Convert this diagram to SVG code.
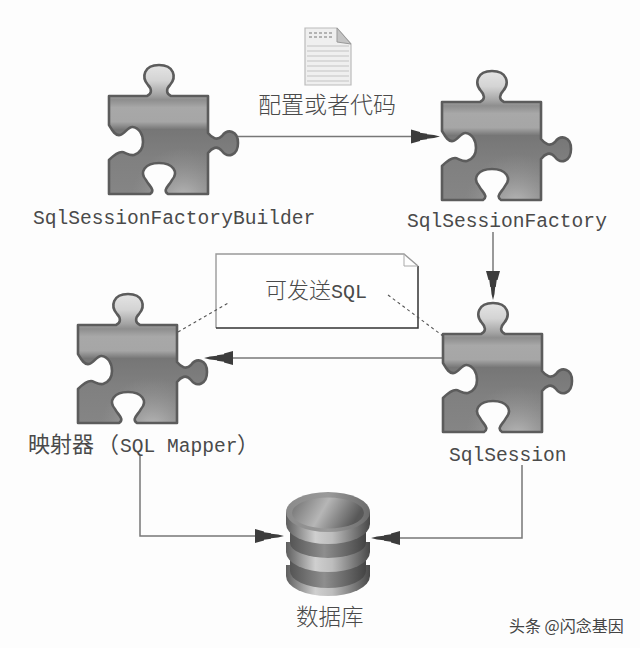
<svg xmlns="http://www.w3.org/2000/svg" width="640" height="648" viewBox="0 0 640 648">
<style>
.lbl{font-family:"Liberation Mono","Noto Sans CJK SC",monospace;font-size:19.6px;fill:#4a4a4a}
.cjk{font-family:"Noto Sans CJK SC",sans-serif;font-size:22.5px;fill:#4a4a4a;font-weight:300}
.conn{fill:none;stroke:#777;stroke-width:1.5}
.dash{fill:none;stroke:#555;stroke-width:1.1;stroke-dasharray:3 3}
.dl{stroke:#c4c4c4;stroke-width:1.2}
</style>
<defs>
<marker id="arr" markerUnits="userSpaceOnUse" markerWidth="30" markerHeight="16" viewBox="0 -8 30 16" refX="0" refY="0" orient="auto">
<path d="M0,-7L9,-4.5V-3.7L16,-2.8V-2.2L23,-1.5L29,0L23,1.5L16,2.2V2.8L9,3.7V4.5L0,7Z" fill="#3c3c3c"/>
</marker>
<linearGradient id="pg" x1="0" y1="0" x2="0" y2="1">
<stop offset="0" stop-color="#e4e4e4"/><stop offset=".12" stop-color="#d4d4d4"/><stop offset=".23" stop-color="#a4a4a4"/><stop offset=".27" stop-color="#8e8e8e"/><stop offset=".33" stop-color="#a8a8a8"/><stop offset=".44" stop-color="#a6a6a6"/><stop offset=".5" stop-color="#767676"/><stop offset=".72" stop-color="#808080"/><stop offset="1" stop-color="#858585"/>
</linearGradient>
<radialGradient id="pr" gradientUnits="userSpaceOnUse" cx="74" cy="104" r="52">
<stop offset="0" stop-color="#c4c4c4" stop-opacity=".85"/><stop offset=".6" stop-color="#aaa" stop-opacity=".35"/><stop offset="1" stop-color="#999" stop-opacity="0"/>
</radialGradient>
<linearGradient id="dg" x1="0" y1="0" x2="1" y2="0">
<stop offset="0" stop-color="#5e5e5e"/><stop offset=".35" stop-color="#cfcfcf"/><stop offset=".55" stop-color="#bdbdbd"/><stop offset="1" stop-color="#484848"/>
</linearGradient>
<linearGradient id="dd" x1="0" y1="0" x2="1" y2="0">
<stop offset="0" stop-color="#555"/><stop offset=".45" stop-color="#8e8e8e"/><stop offset="1" stop-color="#444"/>
</linearGradient>
<linearGradient id="dt" x1="0" y1="0" x2="1" y2="0">
<stop offset="0" stop-color="#8a8a8a"/><stop offset=".5" stop-color="#9a9a9a"/><stop offset="1" stop-color="#6a6a6a"/>
</linearGradient>
<linearGradient id="di" x1="0" y1="0" x2="1" y2="0.25">
<stop offset="0" stop-color="#6e6e6e"/><stop offset=".5" stop-color="#b6b6b6"/><stop offset="1" stop-color="#585858"/>
</linearGradient>
<path id="pz" d="M0,0H38C43,-2 43,-7 39,-11C32,-19 35,-31 50,-31C65,-31 68,-19 61,-11C57,-7 57,-2 62,0H99V37C103,42 108,45 113,40C119,32 129,35 129,47C129,59 119,63 113,55C108,49 103,52 99,57V98H59C53,94 60,90 63,84C70,76 64,67 50,67C36,67 30,76 37,84C40,90 47,94 41,98H0V64C4,60 8,56 13,56C16,56 20,60 25,59C31,57 34,52 34,46C34,38 30,32 24,31C19,30 16,38 11,39C6,40 3,34 0,29Z"/>
<g id="piece">
<use href="#pz" fill="url(#pg)"/>
<use href="#pz" fill="url(#pr)"/>
<use href="#pz" fill="none" stroke="#5c5c5c" stroke-width="2.6" stroke-linejoin="round"/>
</g>
</defs>
<rect width="640" height="648" fill="#fdfdfd"/>

<g id="connectors">
<path class="conn" d="M238,136.500H411" marker-end="url(#arr)"/>
<path class="conn" d="M493,232V271" marker-end="url(#arr)"/>
<path class="conn" d="M443,358H233" marker-end="url(#arr)"/>
<path class="conn" d="M140,455V536H255" marker-end="url(#arr)"/>
<path class="conn" d="M522,465V538H400" marker-end="url(#arr)"/>
</g>

<g id="config-file">
<path d="M305,28H337L351,44V85H305Z" fill="#efefef" stroke="#bbb" stroke-width="1.2"/>
<path d="M337,28V42L351,44Z" fill="#c4c4c4" stroke="#999"/>
<path class="dl" d="M307,46H349M307,51H349M307,56H349M307,61H349M307,66H349M307,71H349M307,76H349M307,81H349"/>
<path d="M309,33h25M309,37h25" stroke="#a0a0a0" stroke-width="1.4" stroke-dasharray="3 2" fill="none"/>
<text class="cjk" x="258" y="113" style="font-size:23px">配置或者代码</text>
</g>

<g id="builder">
<use href="#piece" x="109" y="96"/>
<text class="lbl" x="33" y="224">SqlSessionFactoryBuilder</text>
</g>

<g id="factory">
<use href="#piece" x="442" y="102"/>
<text class="lbl" x="407" y="227">SqlSessionFactory</text>
</g>

<g id="session">
<use href="#piece" x="443" y="334"/>
<text class="lbl" x="449" y="461">SqlSession</text>
</g>

<g id="mapper">
<use href="#piece" x="78" y="325"/>
<text class="lbl" y="452"><tspan x="28" style="font-size:22px">映射器</tspan><tspan x="97" style="font-size:22px">（</tspan><tspan x="120">SQL Mapper</tspan><tspan x="237" style="font-size:22px">）</tspan></text>
</g>

<g id="note">
<path d="M216,254H404L418,266V328H216Z" fill="#fefefe" stroke="none"/>
<path d="M216,328V254H404L418,266" fill="none" stroke="#999" stroke-width="1.4"/>
<path d="M216,328H418V266" fill="none" stroke="#333" stroke-width="1.5"/>
<path d="M404,254V266H418" fill="none" stroke="#aaa" stroke-width="1"/>
<text class="cjk" x="265" y="298" style="font-size:22px">可发送<tspan style="font-family:'Liberation Mono',monospace;font-size:20px">SQL</tspan></text>
</g>
<g id="note-links">
<path class="dash" d="M178,332L230,302"/>
<path class="dash" d="M388,295L443,336"/>
</g>

<g id="database">
<path d="M286,565V576A42,20 0 0 0 370,576V565Z" fill="url(#dg)"/>
<path d="M290,558V571A38,17 0 0 0 366,571V558Z" fill="url(#dd)"/>
<path d="M286,542V552A42,20 0 0 0 370,552V542Z" fill="url(#dg)"/>
<path d="M290,530V543A38,15 0 0 0 366,543V530Z" fill="url(#dd)"/>
<path d="M286,512V524A42,20 0 0 0 370,524V512Z" fill="url(#dg)"/>
<ellipse cx="328" cy="512" rx="42" ry="20" fill="url(#dt)"/>
<ellipse cx="328" cy="513" rx="36" ry="15.500" fill="url(#di)"/>
<text class="cjk" x="296" y="625">数据库</text>
</g>

<text x="509" y="632" style="font-family:'Noto Sans CJK SC',sans-serif;font-size:16px;fill:#444">头条 @闪念基因</text>
</svg>
